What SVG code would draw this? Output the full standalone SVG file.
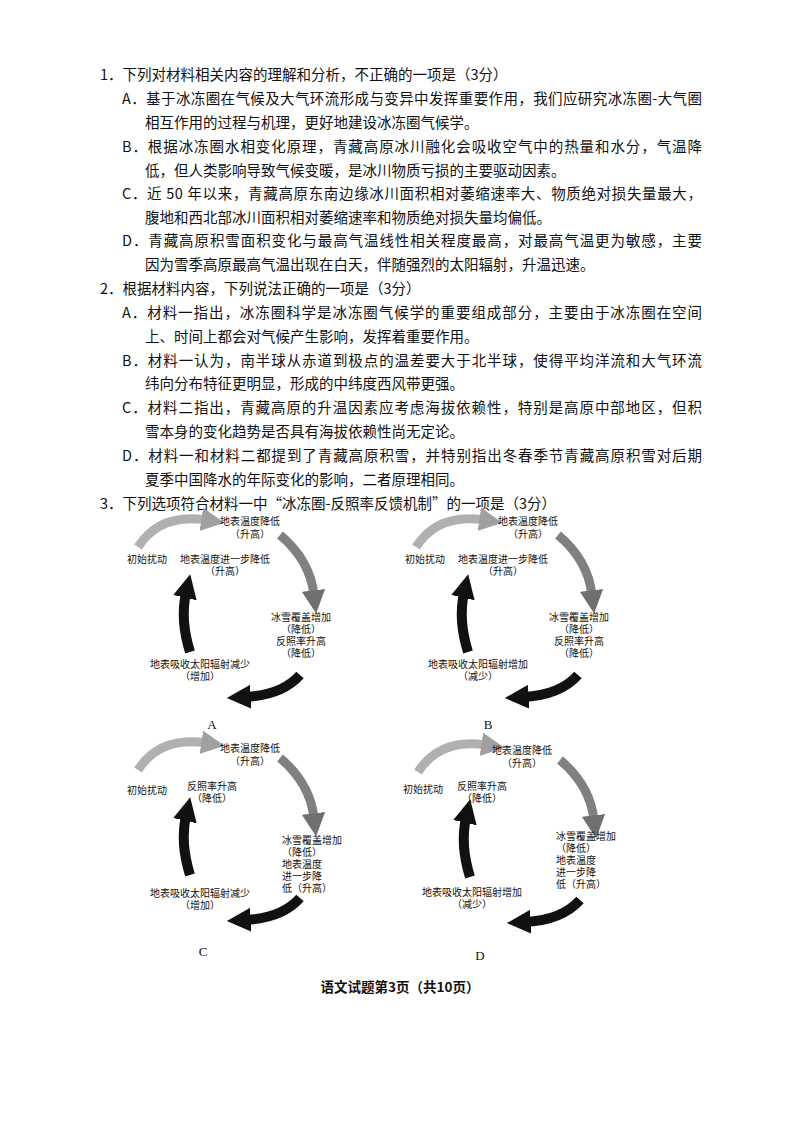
<svg xmlns="http://www.w3.org/2000/svg" width="800" height="1132" viewBox="0 0 800 1132">
<style>
text{font-family:"Noto Sans CJK SC","Liberation Serif",serif;fill:#111}
.t{font-size:14.5px}
.d{font-size:10px;text-anchor:middle}
.l{font-size:10px}
.lab{font-family:"Liberation Serif",serif;font-size:13px;text-anchor:middle}
.g1{fill:none;stroke:#b0b0b0;stroke-width:9}
.g2{fill:none;stroke:#808080;stroke-width:9}
.k{fill:none;stroke:#111;stroke-width:10}
</style>
<defs>
<marker id="hg1" viewBox="0 0 10 10" refX="2" refY="5" markerWidth="2.6" markerHeight="2.6" orient="auto"><path d="M0,0L10,5L0,10z" fill="#a0a0a0"/></marker>
<marker id="hg2" viewBox="0 0 10 10" refX="2" refY="5" markerWidth="2.6" markerHeight="2.6" orient="auto"><path d="M0,0L10,5L0,10z" fill="#707070"/></marker>
<marker id="hk" viewBox="0 0 10 10" refX="2" refY="5" markerWidth="2.4" markerHeight="2.4" orient="auto"><path d="M0,0L10,5L0,10z" fill="#111"/></marker>
<g id="arrows">
<path class="g1" d="M38,42 Q60,8 106,15" marker-end="url(#hg1)"/>
<path class="g2" d="M180,30 Q210,55 214,90" marker-end="url(#hg2)"/>
<path class="k" d="M200,170 Q182,190 146,192" marker-end="url(#hk)"/>
<path class="k" d="M90,147 Q80,115 86,88" marker-end="url(#hk)"/>
</g>
</defs>
<rect width="800" height="1132" fill="#fff"/>
<g id="text">
<text class="t" x="100" y="80">1．下列对材料相关内容的理解和分析，不正确的一项是（3分）</text>
<text class="t" x="122" y="104" textLength="580">A．基于冰冻圈在气候及大气环流形成与变异中发挥重要作用，我们应研究冰冻圈-大气圈</text>
<text class="t" x="145" y="128">相互作用的过程与机理，更好地建设冰冻圈气候学。</text>
<text class="t" x="122" y="152" textLength="580">B．根据冰冻圈水相变化原理，青藏高原冰川融化会吸收空气中的热量和水分，气温降</text>
<text class="t" x="145" y="176">低，但人类影响导致气候变暖，是冰川物质亏损的主要驱动因素。</text>
<text class="t" x="122" y="199" textLength="580">C．近 50 年以来，青藏高原东南边缘冰川面积相对萎缩速率大、物质绝对损失量最大，</text>
<text class="t" x="145" y="223">腹地和西北部冰川面积相对萎缩速率和物质绝对损失量均偏低。</text>
<text class="t" x="122" y="246" textLength="580">D．青藏高原积雪面积变化与最高气温线性相关程度最高，对最高气温更为敏感，主要</text>
<text class="t" x="145" y="270">因为雪季高原最高气温出现在白天，伴随强烈的太阳辐射，升温迅速。</text>
<text class="t" x="100" y="294">2．根据材料内容，下列说法正确的一项是（3分）</text>
<text class="t" x="122" y="318" textLength="580">A．材料一指出，冰冻圈科学是冰冻圈气候学的重要组成部分，主要由于冰冻圈在空间</text>
<text class="t" x="145" y="342">上、时间上都会对气候产生影响，发挥着重要作用。</text>
<text class="t" x="122" y="366" textLength="580">B．材料一认为，南半球从赤道到极点的温差要大于北半球，使得平均洋流和大气环流</text>
<text class="t" x="145" y="389">纬向分布特征更明显，形成的中纬度西风带更强。</text>
<text class="t" x="122" y="413" textLength="580">C．材料二指出，青藏高原的升温因素应考虑海拔依赖性，特别是高原中部地区，但积</text>
<text class="t" x="145" y="437">雪本身的变化趋势是否具有海拔依赖性尚无定论。</text>
<text class="t" x="122" y="461" textLength="580">D．材料一和材料二都提到了青藏高原积雪，并特别指出冬春季节青藏高原积雪对后期</text>
<text class="t" x="145" y="485">夏季中国降水的年际变化的影响，二者原理相同。</text>
<text class="t" x="100" y="509">3．下列选项符合材料一中“冰冻圈-反照率反馈机制”的一项是（3分）</text>
<text x="400" y="992" font-size="13.5" font-weight="bold" text-anchor="middle">语文试题第3页（共10页）</text>
</g>
<g id="nodeA" transform="translate(100,505)">
<use href="#arrows"/>
<text class="d" x="150" y="20">地表温度降低</text><text class="d" x="150" y="33">（升高）</text>
<text class="d" x="47" y="58">初始扰动</text>
<text class="d" x="125" y="58">地表温度进一步降低</text><text class="d" x="125" y="70">（升高）</text>
<text class="d" x="201" y="116">冰雪覆盖增加</text><text class="d" x="201" y="128">（降低）</text><text class="d" x="201" y="140">反照率升高</text><text class="d" x="201" y="152">（降低）</text>
<text class="d" x="100" y="163">地表吸收太阳辐射减少</text><text class="d" x="100" y="175">（增加）</text>
<text class="lab" x="112" y="224">A</text>
</g>
<g id="nodeB" transform="translate(378,505)">
<use href="#arrows"/>
<text class="d" x="150" y="20">地表温度降低</text><text class="d" x="150" y="33">（升高）</text>
<text class="d" x="47" y="58">初始扰动</text>
<text class="d" x="125" y="58">地表温度进一步降低</text><text class="d" x="125" y="70">（升高）</text>
<text class="d" x="201" y="116">冰雪覆盖增加</text><text class="d" x="201" y="128">（降低）</text><text class="d" x="201" y="140">反照率升高</text><text class="d" x="201" y="152">（降低）</text>
<text class="d" x="100" y="163">地表吸收太阳辐射增加</text><text class="d" x="100" y="175">（减少）</text>
<text class="lab" x="110" y="224">B</text>
</g>
<g id="nodeC" transform="translate(100,728)">
<use href="#arrows"/>
<text class="d" x="150" y="24">地表温度降低</text><text class="d" x="150" y="37">（升高）</text>
<text class="d" x="47" y="66">初始扰动</text>
<text class="d" x="112" y="62">反照率升高</text><text class="d" x="112" y="74">（降低）</text>
<text class="l" x="182" y="116">冰雪覆盖增加</text><text class="l" x="182" y="128">（降低）</text><text class="l" x="182" y="140">地表温度</text><text class="l" x="182" y="152">进一步降</text><text class="l" x="182" y="164">低（升高）</text>
<text class="d" x="100" y="169">地表吸收太阳辐射减少</text><text class="d" x="100" y="181">（增加）</text>
<text class="lab" x="103" y="228">C</text>
</g>
<g id="nodeD" transform="translate(380,730)">
<use href="#arrows"/>
<text class="d" x="142" y="24">地表温度降低</text><text class="d" x="142" y="37">（升高）</text>
<text class="d" x="43" y="63">初始扰动</text>
<text class="d" x="102" y="60">反照率升高</text><text class="d" x="102" y="72">（降低）</text>
<text class="l" x="176" y="110">冰雪覆盖增加</text><text class="l" x="176" y="122">（降低）</text><text class="l" x="176" y="134">地表温度</text><text class="l" x="176" y="146">进一步降</text><text class="l" x="176" y="158">低（升高）</text>
<text class="d" x="92" y="166">地表吸收太阳辐射增加</text><text class="d" x="92" y="178">（减少）</text>
<text class="lab" x="100" y="230">D</text>
</g>
</svg>
